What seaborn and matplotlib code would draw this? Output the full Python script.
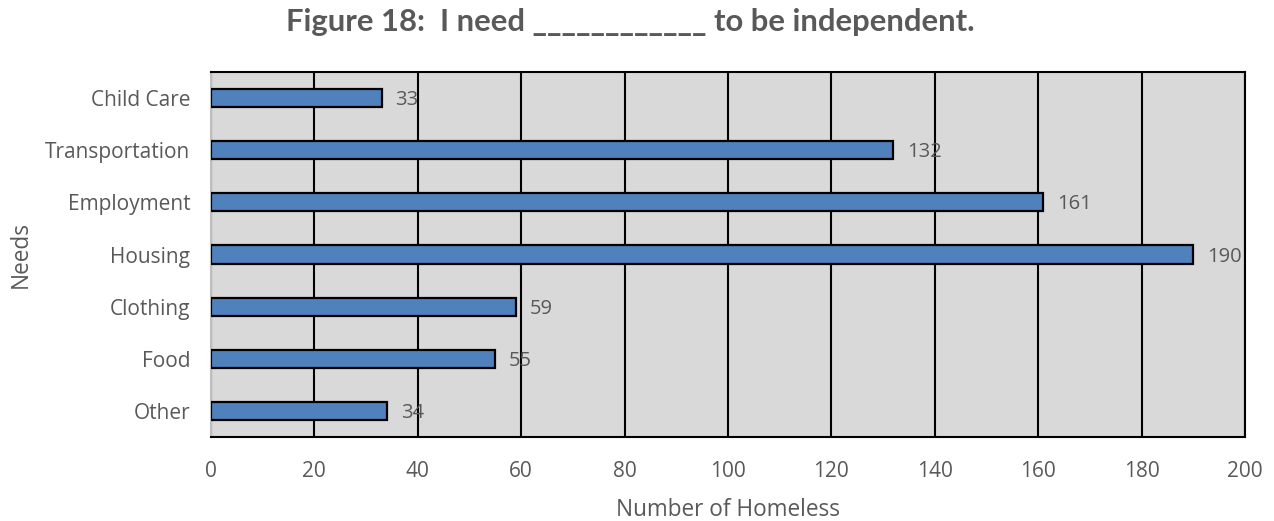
import matplotlib
matplotlib.use("Agg")
import matplotlib.pyplot as plt
import seaborn as sns
import pandas as pd

categories = ["Child Care", "Transportation", "Employment", "Housing", "Clothing", "Food", "Other"]
counts = [33, 132, 161, 190, 59, 55, 34]
x_ticks = [0, 20, 40, 60, 80, 100, 120, 140, 160, 180, 200]

df = pd.DataFrame({"Needs": categories, "Number of Homeless": counts})

sns.set_theme(style="white")
plt.rcParams["font.family"] = ["Open Sans", "DejaVu Sans"]

text_color = "#595959"
fig = plt.figure(figsize=(12.74, 5.21), dpi=100)
ax = fig.add_axes([0.1656, 0.1612, 0.9772 - 0.1656, 0.8618 - 0.1612])
ax.set_facecolor("#d9d9d9")

sns.barplot(data=df, y="Needs", x="Number of Homeless", order=categories,
            color="#4f81bd", edgecolor="black", linewidth=1.6, width=0.35,
            saturation=1, ax=ax, zorder=3)

ax.set_xlim(0, 200)
ax.set_xticks(x_ticks)
ax.set_xticklabels([str(t) for t in x_ticks])
ax.grid(axis="x", color="black", linewidth=1.5, zorder=1)
ax.set_axisbelow(True)
ax.tick_params(axis="y", length=0, colors=text_color, labelsize=15, pad=15)
ax.tick_params(axis="x", length=0, colors=text_color, labelsize=15, pad=17)

# value labels sit just right of each bar end
for i, v in enumerate(counts):
    ax.annotate(str(v), xy=(v, i + 0.04), xytext=(10, 0), textcoords="offset points",
                va="center", ha="left", fontsize=14.5, color=text_color, zorder=4)

for side in ["top", "right", "bottom"]:
    ax.spines[side].set_color("black")
    ax.spines[side].set_linewidth(1.5)
ax.spines["left"].set_color("#bfbfbf")
ax.spines["left"].set_linewidth(1.5)

ax.set_xlabel("Number of Homeless", fontsize=16.3, color=text_color, labelpad=12)
ax.set_ylabel("Needs", fontsize=16.3, color=text_color, labelpad=9)
fig.suptitle("Figure 18:  I need ____________ to be independent.", x=0.495, y=0.985,
             fontsize=22.3, fontweight="bold", color=text_color, family=["Lato", "DejaVu Sans"])

fig.savefig("out.png", dpi=100, facecolor="white")
